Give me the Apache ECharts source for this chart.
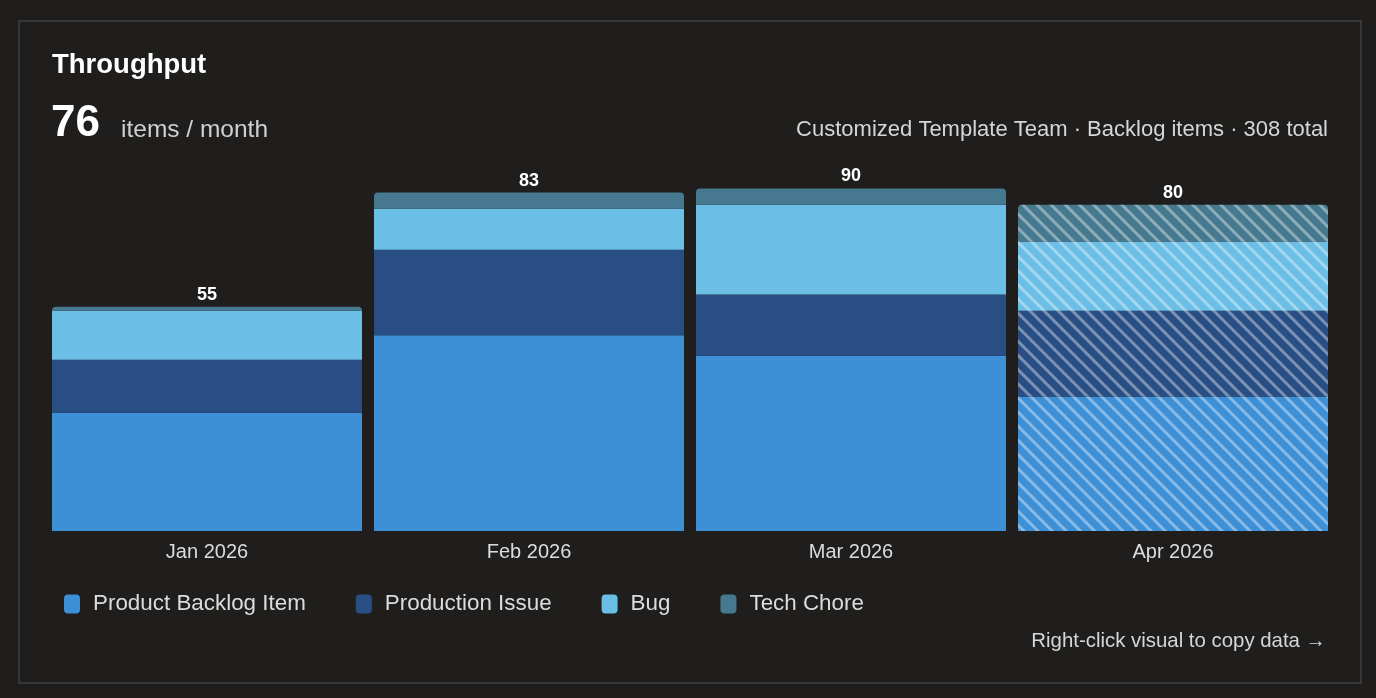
<!DOCTYPE html>
<html>
<head>
<meta charset="utf-8">
<script src="https://cdn.jsdelivr.net/npm/echarts@6/dist/echarts.min.js"></script>
<style>
  html, body { margin: 0; padding: 0; background: #1f1e1d; }
  #chart { width: 1376px; height: 698px; }
</style>
</head>
<body>
<div id="chart"></div>
<script>
var months = ['Jan 2026', 'Feb 2026', 'Mar 2026', 'Apr 2026'];
var backlogItem = [29, 48, 43, 33];
var productionIssue = [13, 21, 15, 21];
var bug = [12, 10, 22, 17];
var techChore = [1, 4, 4, 9];
var totals = [55, 83, 90, 80];
var partialIndex = 3; // current month, drawn hatched

var font = '"Liberation Sans", Arial, sans-serif';

function withDecal(arr) {
    return arr.map(function (v, i) {
        if (i !== partialIndex) return v;
        return {
            value: v,
            itemStyle: {
                decal: {
                    symbol: 'rect',
                    symbolSize: 1,
                    dashArrayX: [1, 0],
                    dashArrayY: [3, 7],
                    rotation: Math.PI / 4,
                    color: 'rgba(255,255,255,0.38)'
                }
            }
        };
    });
}

function mkSeries(name, data, color, isTop) {
    var s = {
        name: name,
        type: 'bar',
        stack: 'total',
        barWidth: 310,
        data: withDecal(data),
        itemStyle: { color: color },
        emphasis: { disabled: true }
    };
    if (isTop) {
        s.itemStyle.borderRadius = [4, 4, 0, 0];
        s.label = {
            show: true,
            position: 'top',
            distance: 3,
            color: '#ffffff',
            fontFamily: font,
            fontWeight: 'bold',
            fontSize: 18,
            formatter: function (p) { return totals[p.dataIndex]; }
        };
    }
    return s;
}

var myChart = echarts.init(document.getElementById('chart'));

var option = {
    backgroundColor: '#1f1e1d',
    animation: false,
    grid: { left: 46, width: 1288, top: 164, height: 367 },
    xAxis: {
        type: 'category',
        data: months,
        axisLine: { show: false },
        axisTick: { show: false },
        axisLabel: { color: '#dcdcdc', fontFamily: font, fontSize: 20, margin: 11 }
    },
    yAxis: {
        type: 'value',
        min: 0,
        max: 90,
        show: false,
        splitLine: { show: false }
    },
    legend: {
        left: 59,
        top: 588,
        icon: 'roundRect',
        itemWidth: 16,
        itemHeight: 19,
        itemGap: 50,
        selectedMode: false,
        textStyle: { color: '#dcdcdc', fontFamily: font, fontSize: 22.4, padding: [0, 0, 0, 8] }
    },
    graphic: [
        {
            type: 'rect',
            shape: { x: 19, y: 21, width: 1342, height: 662 },
            style: { fill: 'none', stroke: '#373737', lineWidth: 2 },
            silent: true
        },
        {
            type: 'text', x: 52, y: 65,
            style: { text: 'Throughput', fill: '#ffffff', font: 'bold 27.5px ' + font, verticalAlign: 'middle' }
        },
        {
            type: 'text', x: 51, y: 124,
            style: { text: '76', fill: '#ffffff', font: 'bold 44px ' + font, verticalAlign: 'middle' }
        },
        {
            type: 'text', x: 121, y: 130,
            style: { text: 'items / month', fill: '#d0d0d0', font: '24.5px ' + font, verticalAlign: 'middle' }
        },
        {
            type: 'text', x: 1328, y: 130,
            style: { text: 'Customized Template Team \u00b7 Backlog items \u00b7 308 total', fill: '#d6d6d6', font: '22px ' + font, align: 'right', verticalAlign: 'middle' }
        },
        {
            type: 'text', x: 1326, y: 641,
            style: { text: 'Right-click visual to copy data \u2192', fill: '#d6d6d6', font: '20.4px ' + font, align: 'right', verticalAlign: 'middle' }
        }
    ],
    series: [
        mkSeries('Product Backlog Item', backlogItem, '#3d8fd6', false),
        mkSeries('Production Issue', productionIssue, '#294e84', false),
        mkSeries('Bug', bug, '#6bbee5', false),
        mkSeries('Tech Chore', techChore, '#46798f', true)
    ]
};

myChart.setOption(option);
</script>
</body>
</html>
